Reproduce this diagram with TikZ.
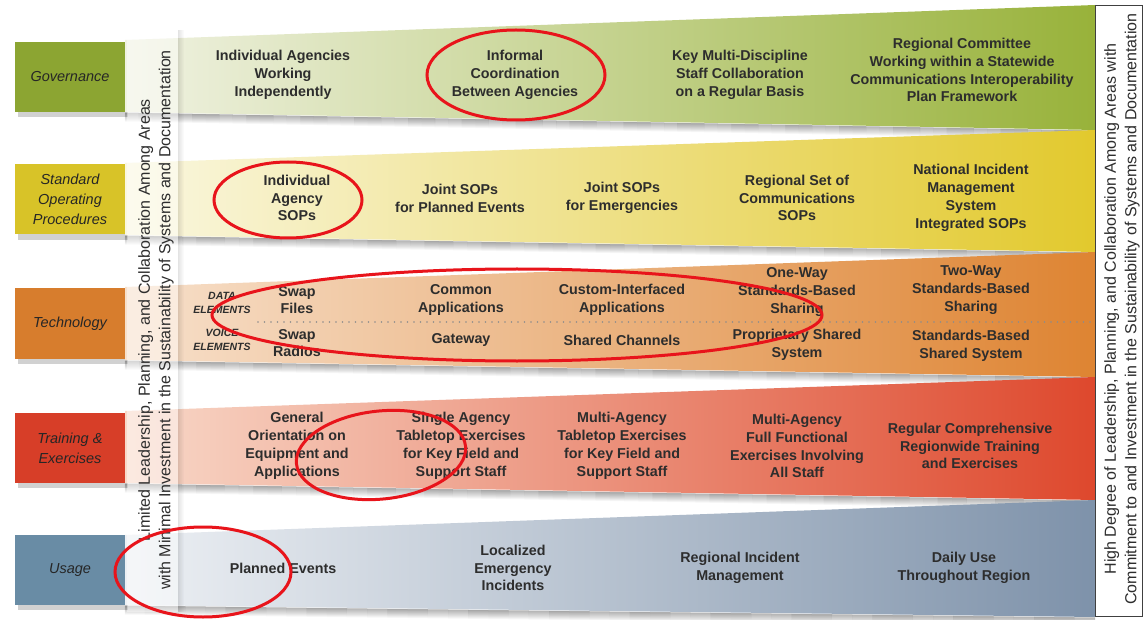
\documentclass[tikz,border=0pt]{standalone}
\usepackage{fontspec}
\setmainfont{Liberation Sans}
\definecolor{govB}{RGB}{140,165,50}
\definecolor{govL}{RGB}{240,242,226}
\definecolor{govR}{RGB}{152,178,58}
\definecolor{sopB}{RGB}{216,195,40}
\definecolor{sopL}{RGB}{250,247,224}
\definecolor{sopR}{RGB}{226,201,45}
\definecolor{tecB}{RGB}{215,125,45}
\definecolor{tecL}{RGB}{247,224,203}
\definecolor{tecR}{RGB}{222,132,50}
\definecolor{trnB}{RGB}{215,62,40}
\definecolor{trnL}{RGB}{248,216,200}
\definecolor{trnR}{RGB}{222,72,45}
\definecolor{usgB}{RGB}{105,140,165}
\definecolor{usgL}{RGB}{237,240,244}
\definecolor{usgR}{RGB}{126,146,170}
\definecolor{txt}{RGB}{45,45,45}
\definecolor{ring}{RGB}{232,20,27}
\tikzset{
  cell/.style={font=\bfseries\fontsize{14.3}{17.8}\selectfont, align=center, text=txt, inner sep=0pt},
  elem/.style={font=\bfseries\itshape\fontsize{10.5}{14}\selectfont, align=center, text=txt, inner sep=0pt},
  labelbox/.style={minimum width=110pt, minimum height=70pt, inner sep=0pt, align=center,
     font=\itshape\fontsize{14.5}{20}\selectfont, text=black!85},
  sidetext/.style={rotate=90, align=center, font=\fontsize{16}{20.5}\selectfont, text=txt, inner sep=0pt},
  redring/.style={draw=ring, line width=3pt},
}
\begin{document}
\begin{tikzpicture}[x=1pt,y=-1pt]
\useasboundingbox (0,0) rectangle (1143,620);
\fill[white] (0,0) rectangle (1143,620);

% band shadows
\foreach \l/\r in {112/130,235/252,360/377,483/500,605/617}{
  \foreach \i [evaluate=\i as \op using 0.035*(10-\i)] in {1,...,9}{
    \draw[black, opacity=\op, line width=1pt] (125,{\l+\i}) -- (1095,{\r+\i});
  }
}
% label box shadows
\foreach \t/\b in {42/112,164/235,288/359,413/483,535/605}{
  \fill[black, opacity=0.18] (18,{\t+4}) rectangle (128,{\b+5});
}

% bands
\shade[left color=govL, right color=govR] (125,40) -- (1095,5) -- (1095,130) -- (125,112) -- cycle;
\shade[left color=sopL, right color=sopR] (125,163) -- (1095,130) -- (1095,252) -- (125,235) -- cycle;
\shade[left color=tecL, right color=tecR] (125,287) -- (1095,252) -- (1095,377) -- (125,360) -- cycle;
\shade[left color=trnL, right color=trnR] (125,411) -- (1095,377) -- (1095,500) -- (125,483) -- cycle;
\shade[left color=usgL, right color=usgR] (125,535) -- (1095,500) -- (1095,617) -- (125,605) -- cycle;

% left pale strip
\foreach \i [evaluate=\i as \op using 0.018*(7-\i)] in {1,...,6}{
  \draw[black, opacity=\op, line width=1pt] ({177+\i},30) -- ({177+\i},612);
}
\fill[white, opacity=0.45] (127,30) rectangle (178,612);

% label boxes
\node[labelbox, fill=govB] (gov) at (70,77) {Governance};
\node[labelbox, fill=sopB] (sop) at (70,199.5) {Standard\\Operating\\Procedures};
\node[labelbox, fill=tecB] (tec) at (70,323.5) {Technology};
\node[labelbox, fill=trnB] (trn) at (70,448) {Training \&\\Exercises};
\node[labelbox, fill=usgB] (usg) at (70,570) {Usage};

% right box
\draw[fill=white, draw=black!75, line width=0.8pt] (1095,5) rectangle (1142.5,616);

% side texts
\node[sidetext] (lefttext) at (156,320) {Limited Leadership, Planning, and Collaboration Among Areas\\with Minimal Investment in the Sustainability of Systems and Documentation};
\node[sidetext] (righttext) at (1122,309) {High Degree of Leadership, Planning, and Collaboration Among Areas with\\Commitment to and Investment in the Sustainability of Systems and Documentation};

% governance row
\node[cell] (g1) at (283,75) {Individual Agencies\\Working\\Independently};
\node[cell] (g2) at (515,75) {Informal\\Coordination\\Between Agencies};
\node[cell] (g3) at (740,75) {Key Multi-Discipline\\Staff Collaboration\\on a Regular Basis};
\node[cell] (g4) at (962,70) {Regional Committee\\Working within a Statewide\\Communications Interoperability\\Plan Framework};

% SOP row
\node[cell] (s1) at (297,198) {Individual\\Agency\\SOPs};
\node[cell] (s2) at (460,198) {Joint SOPs\\for Planned Events};
\node[cell] (s3) at (622,198) {Joint SOPs\\for Emergencies};
\node[cell] (s4) at (797,198) {Regional Set of\\Communications\\SOPs};
\node[cell] (s5) at (971,198) {National Incident\\Management\\System\\Integrated SOPs};

% technology row
\coordinate (dl) at (258,322);
\coordinate (dr) at (1092,322);
\draw[black!45, line width=1.6pt, line cap=round, dash pattern=on 0pt off 6.5pt] (dl) -- (dr);
\node[elem] (de) at (222,303) {DATA\\ELEMENTS};
\node[elem] (ve) at (222,340) {VOICE\\ELEMENTS};
\node[cell] (t1) at (297,300) {Swap\\Files};
\node[cell] (t2) at (461,300) {Common\\Applications};
\node[cell] (t3) at (622,300) {Custom-Interfaced\\Applications};
\node[cell] (t4) at (797,292) {One-Way\\Standards-Based\\Sharing};
\node[cell] (t5) at (971,290) {Two-Way\\Standards-Based\\Sharing};
\node[cell] (v1) at (297,343) {Swap\\Radios};
\node[cell] (v2) at (461,340) {Gateway};
\node[cell] (v3) at (622,340) {Shared Channels};
\node[cell] (v4) at (797,345) {Proprietary Shared\\System};
\node[cell] (v5) at (971,346) {Standards-Based\\Shared System};

% training row
\node[cell] (r1) at (297,446) {General\\Orientation on\\Equipment and\\Applications};
\node[cell] (r2) at (461,446) {Single Agency\\Tabletop Exercises\\for Key Field and\\Support Staff};
\node[cell] (r3) at (622,446) {Multi-Agency\\Tabletop Exercises\\for Key Field and\\Support Staff};
\node[cell] (r4) at (797,446) {Multi-Agency\\Full Functional\\Exercises Involving\\All Staff};
\node[cell] (r5) at (970,446) {Regular Comprehensive\\Regionwide Training\\and Exercises};

% usage row
\node[cell] (u1) at (283,568) {Planned Events};
\node[cell] (u2) at (513,568) {Localized\\Emergency\\Incidents};
\node[cell] (u3) at (740,568) {Regional Incident\\Management};
\node[cell] (u4) at (964,568) {Daily Use\\Throughout Region};

% red ellipses
\draw[redring] (516,75) ellipse [x radius=89, y radius=45];
\draw[redring] (288,200) ellipse [x radius=74, y radius=38];
\draw[redring] (517,315) ellipse [x radius=305, y radius=46];
\draw[redring, rotate around={6:(381,455)}] (381,455) ellipse [x radius=85, y radius=44];
\draw[redring] (203,572) ellipse [x radius=88, y radius=45];
\end{tikzpicture}
\end{document}
